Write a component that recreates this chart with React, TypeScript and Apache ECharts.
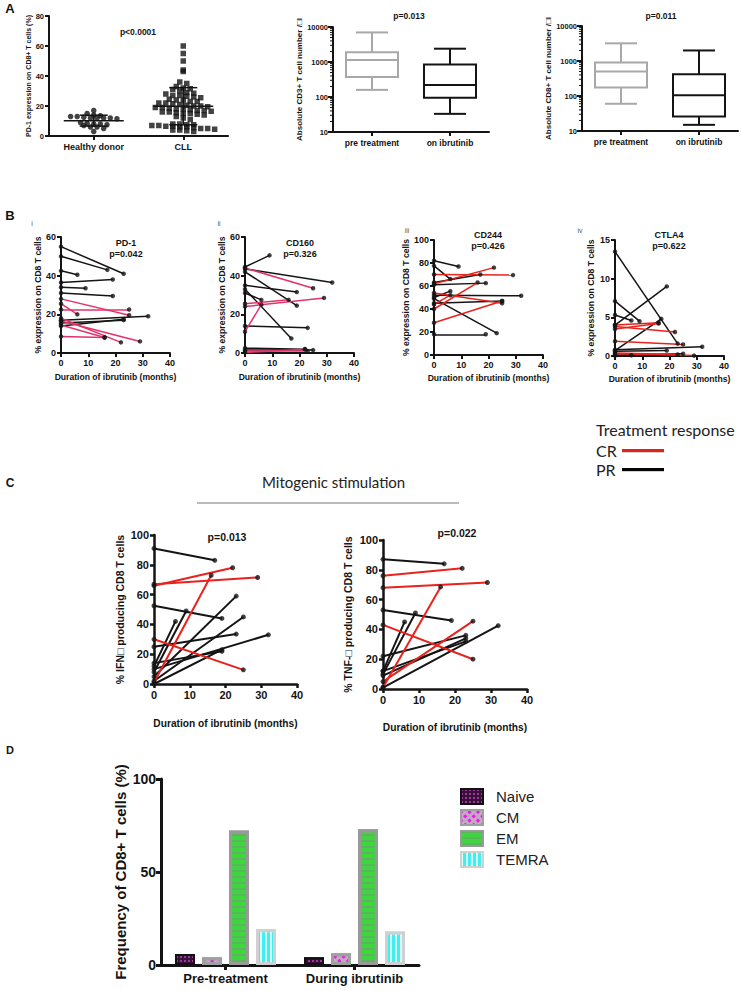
import { useEffect, useRef } from 'react';
import * as echarts from 'echarts';

const FONT = "'Liberation Sans', Arial, Helvetica, sans-serif";
const SOFT_FONT = "Lato, 'Open Sans', sans-serif";
const INK = '#141414';
const GREY_BOX = '#a8a8a8';
const CR_PINK = '#e3336a';
const CR_RED = '#e8221c';

// ---------------- Panel A ----------------
const groupLabels = ['Healthy donor', 'CLL'];
const healthyDonorPD1 = [17, 15, 14, 13.5, 13, 13, 12.5, 12, 12, 12, 12, 11.5, 9, 8.5, 8, 8, 7.5, 7, 6, 6, 5, 3];
const cllPD1 = [60, 55, 50, 44, 43, 36, 35, 33, 32, 31.5, 31, 30, 29, 28.5, 28, 27, 27, 26.5, 26, 25.5, 24.5, 24, 24, 23, 23, 22, 22, 21.5, 21, 20.5, 20, 20, 19.5, 19, 19, 18.5, 18, 18, 17.5, 17, 17, 16.5, 16, 16, 15.5, 15, 15, 14.5, 14, 13, 12, 11, 8, 8, 7.5, 7.5, 7, 7, 6.5, 6.5, 6, 6, 5.5, 5, 5, 4.5, 4, 4, 3.5, 3];
const boxCategories = ['pre treatment', 'on ibrutinib'];
// [min, Q1, median, Q3, max]
const cd3PreBox = [160, 370, 1150, 1900, 7000];
const cd3OnBox = [33, 95, 220, 850, 2400];
const cd8PreBox = [60, 175, 500, 900, 3200];
const cd8OnBox = [15, 26, 105, 420, 2000];
const logDecades = [10, 100, 1000];
const logMinorSteps = [2, 3, 4, 5, 6, 7, 8, 9];

// ---------------- Panel B ----------------
// [% at start, months on ibrutinib, % at follow-up, response]
const pd1Rows: [number, number, number, string][] = [
  [55, 23, 41, 'PR'], [50, 17, 43, 'PR'], [42.5, 6, 40.5, 'PR'], [36.5, 19, 38, 'PR'],
  [34, 9, 33.5, 'PR'], [31, 19, 29.5, 'PR'], [17, 32, 19, 'PR'], [14, 23, 17.5, 'PR'], [15.5, 23, 17, 'PR'],
  [28, 25, 19.5, 'CR'], [22.5, 25, 22.5, 'CR'], [25.5, 6, 20, 'CR'], [18, 22, 5.5, 'CR'],
  [16.5, 29, 6, 'CR'], [14.5, 16, 8, 'CR'], [8.5, 16, 8, 'CR'],
];
const cd160Rows: [number, number, number, string][] = [
  [44.5, 9, 50.5, 'PR'], [43.5, 32, 36.5, 'PR'], [42, 19, 24.5, 'PR'], [35, 19, 31.5, 'PR'],
  [33, 17, 7.5, 'PR'], [31, 6, 27.5, 'PR'], [14, 23, 13, 'PR'], [2.5, 22, 2, 'PR'], [1.5, 25, 1.5, 'PR'],
  [44, 25, 33.5, 'CR'], [25.5, 16, 27.5, 'CR'], [24, 29, 28.5, 'CR'], [11, 6, 25, 'CR'],
  [1, 23, 1, 'CR'], [0.3, 22, 2, 'CR'],
];
const cd244Rows: [number, number, number, string][] = [
  [82, 9, 77, 'PR'], [77.5, 6, 66, 'PR'], [63, 17, 70, 'PR'], [61, 19, 62.5, 'PR'],
  [52, 32, 51.5, 'PR'], [50, 6, 55.5, 'PR'], [49, 23, 19, 'PR'], [45, 25, 47, 'PR'], [18, 19, 18, 'PR'],
  [62, 22, 76, 'CR'], [70, 29, 69.5, 'CR'], [40, 16, 63, 'CR'], [54, 25, 45, 'CR'],
  [28, 25, 47, 'CR'], [44, 6, 52, 'CR'],
];
const ctla4Rows: [number, number, number, string][] = [
  [13.5, 23, 1.6, 'PR'], [7.1, 9, 4.5, 'PR'], [5.3, 6, 4.6, 'PR'], [4, 19, 9, 'PR'],
  [0.7, 17, 4.8, 'PR'], [0.8, 32, 1.2, 'PR'], [0.6, 19, 0.7, 'PR'], [0.1, 25, 0.3, 'PR'], [0.05, 6, 0.1, 'PR'],
  [4, 16, 4.3, 'CR'], [3.8, 22, 3.1, 'CR'], [3.5, 16, 4.2, 'CR'], [1.9, 25, 1.5, 'CR'],
  [0.4, 23, 0.2, 'CR'], [0.3, 29, 0.05, 'CR'],
];

// ---------------- Panel C ----------------
const ifngRows: [number, number, number, string][] = [
  [91, 17, 83, 'PR'], [52.5, 19, 44, 'PR'], [25, 23, 33.5, 'PR'], [12, 6, 42, 'PR'],
  [8, 9, 49, 'PR'], [5, 23, 59, 'PR'], [2, 25, 45, 'PR'], [10, 32, 33, 'PR'], [0, 19, 23, 'PR'], [14, 19, 22, 'PR'],
  [66, 22, 78, 'CR'], [67, 29, 71.5, 'CR'], [1, 16, 73, 'CR'], [30, 25, 9.5, 'CR'],
];
const tnfaRows: [number, number, number, string][] = [
  [87, 17, 84, 'PR'], [53, 19, 46, 'PR'], [22, 23, 36, 'PR'], [12, 6, 45, 'PR'],
  [10, 9, 51, 'PR'], [9, 23, 34, 'PR'], [12, 23, 32, 'PR'], [1, 32, 42.5, 'PR'],
  [76, 22, 81, 'CR'], [68, 29, 71.5, 'CR'], [1, 16, 68.5, 'CR'], [43, 25, 20, 'CR'], [5, 25, 45.5, 'CR'],
];

// ---------------- Panel D ----------------
const subsetCategories = ['Pre-treatment', 'During ibrutinib'];
const naiveFreq = [5.9, 4.1];
const cmFreq = [4.1, 6.3];
const emFreq = [72.3, 73];
const temraFreq = [19.2, 18];

// ---------------- helpers ----------------
const mean = (a: number[]) => a.reduce((s, v) => s + v, 0) / a.length;
const sd = (a: number[]) => {
  const m = mean(a);
  return Math.sqrt(a.reduce((s, v) => s + (v - m) ** 2, 0) / (a.length - 1));
};

function swarm(values: number[], center: number, bin: number, step: number) {
  const groups = new Map<number, number[]>();
  [...values].sort((a, b) => b - a).forEach((v) => {
    const k = Math.round(v / bin);
    if (!groups.has(k)) groups.set(k, []);
    groups.get(k)!.push(v);
  });
  const out: number[][] = [];
  groups.forEach((g) => g.forEach((v, i) => out.push([center + (i - (g.length - 1) / 2) * step, v])));
  return out;
}

const txt = (fs: number, extra: any = {}) => ({
  color: INK, fontFamily: FONT, fontWeight: 'bold', fontSize: fs, ...extra,
});

function valueAxis(gridIndex: number, min: number, max: number, interval: number, fs: number, lw: number, extra: any = {}) {
  return {
    type: 'value', gridIndex, min, max, interval,
    axisLine: { show: true, onZero: false, lineStyle: { color: INK, width: lw } },
    axisTick: { show: true, inside: false, length: 4, lineStyle: { color: INK, width: lw } },
    axisLabel: { ...txt(fs), margin: 5 },
    splitLine: { show: false },
    nameLocation: 'middle',
    nameTextStyle: txt(fs),
    ...extra,
  };
}

function logAxis(gridIndex: number, name: string, gap: number) {
  return {
    type: 'log', logBase: 10, gridIndex, min: 10, max: 10000,
    axisLine: { show: true, onZero: false, lineStyle: { color: INK, width: 2 } },
    axisTick: { show: true, inside: false, length: 5, lineStyle: { color: INK, width: 2 } },
    axisLabel: { ...txt(7.5), margin: 5, formatter: (v: number) => String(Math.round(v)) },
    splitLine: { show: false },
    minorTick: { show: false },
    name, nameLocation: 'middle', nameGap: gap, nameTextStyle: txt(8),
  };
}

function categoryAxis(gridIndex: number, data: string[], fs: number, lw: number, extra: any = {}) {
  return {
    type: 'category', gridIndex, data, boundaryGap: true,
    axisLine: { show: true, onZero: false, lineStyle: { color: INK, width: lw } },
    axisTick: { show: true, alignWithLabel: true, length: 4, lineStyle: { color: INK, width: lw } },
    axisLabel: { ...txt(fs), margin: 6 },
    splitLine: { show: false },
    ...extra,
  };
}

function boxSeries(axisIdx: number, pre: number[], on: number[]) {
  return {
    type: 'custom', xAxisIndex: axisIdx, yAxisIndex: axisIdx, silent: true, clip: false,
    data: [[0, ...pre], [1, ...on]],
    renderItem: (_p: any, api: any) => {
      const x = api.value(0);
      const pts = [1, 2, 3, 4, 5].map((i) => api.coord([x, api.value(i)]));
      const cx = pts[0][0];
      const color = x === 0 ? GREY_BOX : INK;
      const hw = 26;
      const cw = 16;
      const st = { stroke: color, lineWidth: 2, fill: 'none' };
      return {
        type: 'group',
        children: [
          { type: 'line', shape: { x1: cx, y1: pts[0][1], x2: cx, y2: pts[1][1] }, style: st },
          { type: 'line', shape: { x1: cx, y1: pts[3][1], x2: cx, y2: pts[4][1] }, style: st },
          { type: 'line', shape: { x1: cx - cw, y1: pts[0][1], x2: cx + cw, y2: pts[0][1] }, style: st },
          { type: 'line', shape: { x1: cx - cw, y1: pts[4][1], x2: cx + cw, y2: pts[4][1] }, style: st },
          { type: 'rect', shape: { x: cx - hw, y: pts[3][1], width: hw * 2, height: pts[1][1] - pts[3][1] }, style: st },
          { type: 'line', shape: { x1: cx - hw, y1: pts[2][1], x2: cx + hw, y2: pts[2][1] }, style: st },
        ],
      };
    },
  };
}

function minorTickSeries(axisIdx: number) {
  const vals: number[][] = [];
  logDecades.forEach((d) => logMinorSteps.forEach((k) => vals.push([0, k * d])));
  return {
    type: 'custom', xAxisIndex: axisIdx, yAxisIndex: axisIdx, silent: true, clip: false,
    data: vals,
    renderItem: (params: any, api: any) => {
      const p = api.coord([0, api.value(1)]);
      const x0 = params.coordSys.x;
      return { type: 'line', shape: { x1: x0 - 3, y1: p[1], x2: x0, y2: p[1] }, style: { stroke: INK, lineWidth: 1 } };
    },
  };
}

function pairedSeries(rows: [number, number, number, string][], axisIdx: number, crColor: string, lw: number, dot: number) {
  return [
    {
      type: 'lines', coordinateSystem: 'cartesian2d', xAxisIndex: axisIdx, yAxisIndex: axisIdx,
      silent: true, z: 2,
      lineStyle: { width: lw, opacity: 1, curveness: 0 },
      data: rows.map((r) => ({
        coords: [[0, r[0]], [r[1], r[2]]],
        lineStyle: { color: r[3] === 'CR' ? crColor : INK, width: lw, opacity: 1 },
      })),
    },
    {
      type: 'scatter', xAxisIndex: axisIdx, yAxisIndex: axisIdx, silent: true, z: 3,
      symbol: 'circle', symbolSize: dot, itemStyle: { color: INK },
      data: rows.flatMap((r) => [[0, r[0]], [r[1], r[2]]]),
    },
  ];
}

const grids = [
  { left: 49, top: 16, width: 179, height: 120 },   // A1
  { left: 333, top: 27, width: 156, height: 105 },  // A2
  { left: 582, top: 26, width: 156, height: 105 },  // A3
  { left: 61, top: 237, width: 109, height: 116 },  // B i
  { left: 245, top: 237, width: 109, height: 116 }, // B ii
  { left: 434, top: 240, width: 109, height: 115 }, // B iii
  { left: 615, top: 240, width: 109, height: 116 }, // B iv
  { left: 154, top: 535, width: 143, height: 149 }, // C1
  { left: 383, top: 540, width: 144, height: 149 }, // C2
  { left: 161, top: 779, width: 258, height: 186 }, // D
];

const durName = 'Duration of ibrutinib (months)';
const bYName = '% expression on CD8 T cells';

function buildOption() {
  const hMean = mean(healthyDonorPD1);
  const cMean = mean(cllPD1);
  const xAxis: any[] = [
    categoryAxis(0, groupLabels, 9, 2),
    categoryAxis(1, boxCategories, 8.5, 2),
    categoryAxis(2, boxCategories, 8.5, 2),
    valueAxis(3, 0, 40, 10, 9, 2, { name: durName, nameGap: 19, nameTextStyle: txt(8.6) }),
    valueAxis(4, 0, 40, 10, 9, 2, { name: durName, nameGap: 19, nameTextStyle: txt(8.6) }),
    valueAxis(5, 0, 40, 10, 9, 2, { name: durName, nameGap: 18, nameTextStyle: txt(8.6) }),
    valueAxis(6, 0, 40, 10, 9, 2, { name: durName, nameGap: 18, nameTextStyle: txt(8.6) }),
    valueAxis(7, 0, 40, 10, 11, 2.5, { name: durName, nameGap: 34, nameTextStyle: txt(10.2) }),
    valueAxis(8, 0, 40, 10, 11, 2.5, { name: durName, nameGap: 33, nameTextStyle: txt(10.2) }),
    categoryAxis(9, subsetCategories, 13, 3, { axisLabel: { ...txt(13), margin: 7 }, axisTick: { show: true, alignWithLabel: true, length: 5, lineStyle: { color: INK, width: 3 } } }),
    { type: 'value', gridIndex: 0, min: 0.5, max: 2.5, show: false },
  ];
  const yAxis: any[] = [
    valueAxis(0, 0, 80, 20, 7.5, 2, { name: 'PD-1 expression on CD8+ T cells (%)', nameGap: 15, nameTextStyle: txt(7) }),
    logAxis(1, 'Absolute CD3+ T cell number /□l', 27),
    logAxis(2, 'Absolute CD8+ T cell number /□l', 28),
    valueAxis(3, 0, 60, 20, 9, 2, { name: bYName, nameGap: 19, nameTextStyle: txt(8.6) }),
    valueAxis(4, 0, 60, 20, 9, 2, { name: bYName, nameGap: 18, nameTextStyle: txt(8.6) }),
    valueAxis(5, 0, 100, 20, 9, 2, { name: bYName, nameGap: 22, nameTextStyle: txt(8.6) }),
    valueAxis(6, 0, 15, 5, 9, 2, { name: bYName, nameGap: 20, nameTextStyle: txt(8.6) }),
    valueAxis(7, 0, 100, 20, 11, 2.5, { name: '% IFN□ producing CD8 T cells', nameGap: 29, nameTextStyle: txt(10.5) }),
    valueAxis(8, 0, 100, 20, 11, 2.5, { name: '% TNF-□ producing CD8 T cells', nameGap: 30, nameTextStyle: txt(10.5) }),
    valueAxis(9, 0, 100, 50, 14, 3, { name: 'Frequency of CD8+ T cells (%)', nameGap: 33, nameTextStyle: txt(15), axisTick: { show: true, length: 5, lineStyle: { color: INK, width: 3 } } }),
  ];

  const meanSd = {
    type: 'custom', xAxisIndex: 10, yAxisIndex: 0, silent: true, z: 6, clip: false,
    data: [[1, hMean, sd(healthyDonorPD1)], [2, cMean, sd(cllPD1)]],
    renderItem: (_p: any, api: any) => {
      const x = api.value(0);
      const m = api.value(1);
      const s = api.value(2);
      const c = api.coord([x, m]);
      const t = api.coord([x, m + s]);
      const b = api.coord([x, m - s]);
      const st = { stroke: INK, lineWidth: 1.5 };
      return {
        type: 'group',
        children: [
          { type: 'line', shape: { x1: c[0] - 30, y1: c[1], x2: c[0] + 30, y2: c[1] }, style: st },
          { type: 'line', shape: { x1: c[0], y1: t[1], x2: c[0], y2: b[1] }, style: st },
          { type: 'line', shape: { x1: c[0] - 14, y1: t[1], x2: c[0] + 14, y2: t[1] }, style: st },
          { type: 'line', shape: { x1: c[0] - 14, y1: b[1], x2: c[0] + 14, y2: b[1] }, style: st },
        ],
      };
    },
  };

  const barBase = { type: 'bar', xAxisIndex: 9, yAxisIndex: 9, barWidth: 20, barGap: '35%', silent: true };

  const series: any[] = [
    {
      type: 'scatter', xAxisIndex: 10, yAxisIndex: 0, symbol: 'circle', symbolSize: 5.5, silent: true,
      itemStyle: { color: INK }, data: swarm(healthyDonorPD1, 1, 3, 0.074),
    },
    {
      type: 'scatter', xAxisIndex: 10, yAxisIndex: 0, symbol: 'rect', symbolSize: 5.5, silent: true,
      itemStyle: { color: INK }, data: swarm(cllPD1, 2, 3, 0.078),
    },
    meanSd,
    minorTickSeries(1),
    minorTickSeries(2),
    boxSeries(1, cd3PreBox, cd3OnBox),
    boxSeries(2, cd8PreBox, cd8OnBox),
    ...pairedSeries(pd1Rows, 3, CR_PINK, 1.5, 4.5),
    ...pairedSeries(cd160Rows, 4, CR_PINK, 1.5, 4.5),
    ...pairedSeries(cd244Rows, 5, CR_RED, 1.5, 4.5),
    ...pairedSeries(ctla4Rows, 6, CR_RED, 1.5, 4.5),
    ...pairedSeries(ifngRows, 7, CR_RED, 2, 5),
    ...pairedSeries(tnfaRows, 8, CR_RED, 2, 5),
    {
      ...barBase, name: 'Naive', data: naiveFreq,
      itemStyle: {
        color: '#3a0f3a', borderColor: '#111', borderWidth: 2,
        decal: { symbol: 'rect', symbolSize: 1, color: '#9b3a9b', dashArrayX: [2, 2], dashArrayY: [2, 2] },
      },
    },
    {
      ...barBase, name: 'CM', data: cmFreq,
      itemStyle: {
        color: '#c9a6c9', borderColor: '#a0a0a0', borderWidth: 3,
        decal: { symbol: 'rect', symbolSize: 1, color: '#e020e0', dashArrayX: [3, 3], dashArrayY: [3, 3], rotation: Math.PI / 4 },
      },
    },
    {
      ...barBase, name: 'EM', data: emFreq,
      itemStyle: {
        color: '#3ed63e', borderColor: '#999999', borderWidth: 3,
        decal: { symbol: 'rect', symbolSize: 1, color: 'rgba(120,150,120,0.55)', dashArrayX: [1, 0], dashArrayY: [1.5, 3.5] },
      },
    },
    {
      ...barBase, name: 'TEMRA', data: temraFreq,
      itemStyle: {
        color: '#3ff0f0', borderColor: '#d0d0d0', borderWidth: 3,
        decal: { symbol: 'rect', symbolSize: 1, color: 'rgba(255,255,255,0.8)', dashArrayX: [2, 3], dashArrayY: [1, 0] },
      },
    },
  ];

  const t = (x: number, y: number, text: string, fs: number, extra: any = {}) => ({
    type: 'text', x, y, silent: true,
    style: { text, fill: INK, fontFamily: FONT, fontWeight: 'bold', fontSize: fs, align: 'center', verticalAlign: 'middle', ...extra },
  });
  const roman = (x: number, y: number, text: string) => t(x, y, text, 7, { fontWeight: 'normal', fill: '#555' });
  const swatch = (y: number, color: string) => [
    { type: 'rect', silent: true, shape: { x: 622, y: y, width: 42, height: 2 }, style: { fill: 'rgba(0,0,0,0.18)' } },
    { type: 'rect', silent: true, shape: { x: 622, y: y - 2, width: 42, height: 3 }, style: { fill: color } },
  ];

  const graphicEls: any[] = [
    t(10, 8, 'A', 13),
    t(10, 215, 'B', 13),
    t(10, 483, 'C', 12),
    t(10, 750, 'D', 11),
    t(138, 32, 'p<0.0001', 8.5),
    t(409, 16, 'p=0.013', 8.5),
    t(661, 16, 'p=0.011', 8.5),
    roman(32, 223, 'i'), roman(219, 223, 'ii'), roman(407, 230, 'iii'), roman(580, 230, 'iv'),
    t(126, 243, 'PD-1', 9), t(126, 254, 'p=0.042', 9),
    t(300, 243, 'CD160', 9), t(300, 254, 'p=0.326', 9),
    t(488, 235, 'CD244', 9), t(488, 246, 'p=0.426', 9),
    t(669, 235, 'CTLA4', 9), t(669, 246, 'p=0.622', 9),
    t(227, 537, 'p=0.013', 10.5),
    t(457, 533, 'p=0.022', 10.5),
    t(596, 429, 'Treatment response', 16, { fontFamily: SOFT_FONT, fontWeight: 'normal', align: 'left', fill: '#222' }),
    t(596, 450, 'CR', 16, { fontFamily: SOFT_FONT, fontWeight: 'normal', align: 'left', fill: '#222' }),
    t(596, 469, 'PR', 16, { fontFamily: SOFT_FONT, fontWeight: 'normal', align: 'left', fill: '#222' }),
    ...swatch(451, '#e8201c'),
    ...swatch(470, '#050505'),
    t(262, 482, 'Mitogenic stimulation', 15, { fontFamily: SOFT_FONT, fontWeight: 'normal', align: 'left', fill: '#222' }),
    { type: 'rect', silent: true, shape: { x: 197, y: 502.5, width: 262, height: 1 }, style: { fill: '#777' } },
  ];

  return {
    animation: false,
    backgroundColor: '#ffffff',
    textStyle: { fontFamily: FONT },
    grid: grids.map((g) => ({ ...g, containLabel: false, outerBoundsMode: 'none' })),
    xAxis,
    yAxis,
    legend: {
      data: ['Naive', 'CM', 'EM', 'TEMRA'],
      orient: 'vertical', left: 455, top: 783,
      itemWidth: 22, itemHeight: 15, itemGap: 4, icon: 'rect', selectedMode: false,
      textStyle: { fontFamily: FONT, fontSize: 15, color: '#222', padding: [0, 0, 0, 8] },
    },
    series,
    graphic: { elements: graphicEls },
  };
}

export default function App() {
  const ref = useRef<HTMLDivElement>(null);
  useEffect(() => {
    document.body.style.margin = '0';
    const chart = echarts.init(ref.current!, null, { renderer: 'svg' });
    chart.setOption(buildOption() as any);
    return () => chart.dispose();
  }, []);
  return <div ref={ref} style={{ width: 741, height: 991 }} />;
}
